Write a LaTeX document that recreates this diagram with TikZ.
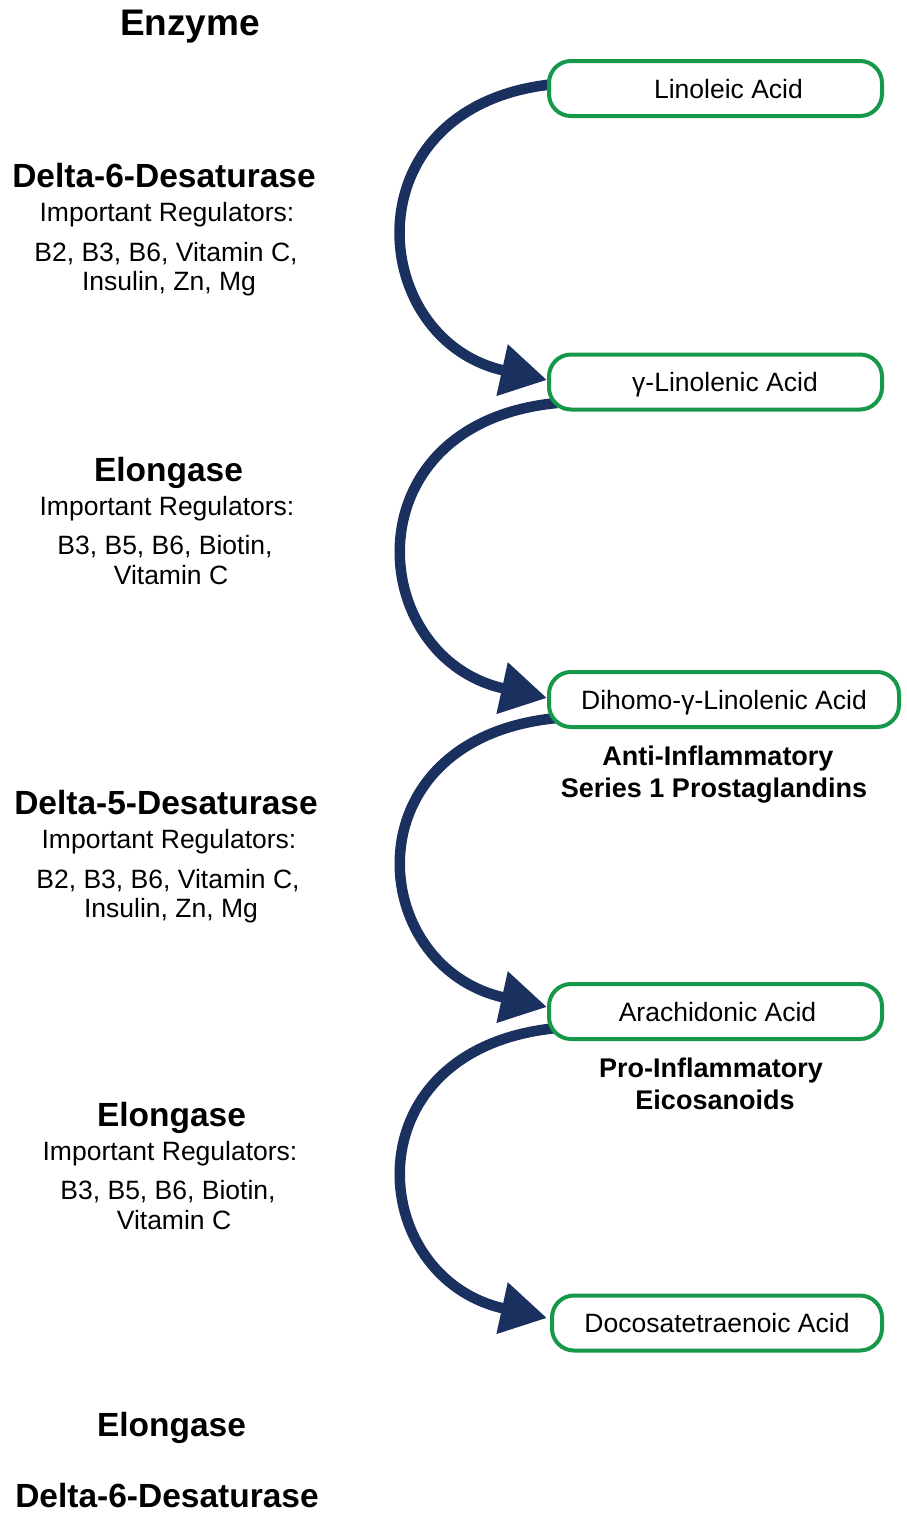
\documentclass[tikz,border=0pt]{standalone}
\usepackage{fontspec}
\setmainfont{Liberation Sans}
\usetikzlibrary{arrows.meta,backgrounds}
\definecolor{accgreen}{RGB}{22,152,74}
\definecolor{navyflow}{RGB}{26,48,94}
\tikzset{
  reg/.style={font=\fontsize{26.5}{30}\selectfont, text height=19pt, text depth=0pt, inner sep=0pt},
  head/.style={font=\bfseries\fontsize{33.5}{38}\selectfont, text height=24pt, text depth=0pt, inner sep=0pt},
  note/.style={font=\bfseries\fontsize{27}{31}\selectfont, text height=19.5pt, text depth=0pt, inner sep=0pt},
  acid/.style={draw=accgreen, line width=4pt, fill=white, rounded corners=22pt, minimum height=55pt,
    font=\fontsize{26.5}{30}\selectfont, text height=19pt, text depth=0pt, inner sep=0pt},
  flow/.style={draw=navyflow, line width=10.5pt, -{Triangle[length=46pt,width=50pt]}}
}
\begin{document}
\begin{tikzpicture}[x=1pt,y=1pt]
\useasboundingbox (0,0) rectangle (906,-1513);
% boxes
\node[acid, minimum width=333pt] (b1) at (715.5,-88.5) {\hspace*{26pt}Linoleic Acid};
\node[acid, minimum width=333pt] (b2) at (715.5,-382) {\hspace*{19pt}γ-Linolenic Acid};
\node[acid, minimum width=350pt] (b3) at (724,-699.5) {Dihomo-γ-Linolenic Acid};
\node[acid, minimum width=333pt] (b4) at (715.5,-1011.5) {\hspace*{4pt}Arachidonic Acid};
\node[acid, minimum width=330pt] (b5) at (717,-1323) {Docosatetraenoic Acid};
% arrows behind boxes
\begin{pgfonlayer}{background}
\draw[flow] ([xshift=8pt,yshift=4.5pt]b1.west) .. controls +(-207,-20) and +(-182,40) .. ([yshift=2pt]b2.west);
\draw[flow] ([xshift=10pt,yshift=-21pt]b2.west) .. controls +(-209,-20) and +(-182,40) .. ([yshift=1.5pt]b3.west);
\draw[flow] ([xshift=10pt,yshift=-18.5pt]b3.west) .. controls +(-209,-20) and +(-182,40) .. ([yshift=4.5pt]b4.west);
\draw[flow] ([xshift=10pt,yshift=-16.5pt]b4.west) .. controls +(-209,-20) and +(-182,40) .. ([xshift=-3pt,yshift=5pt]b5.west);
\end{pgfonlayer}
% left column
\node[head, font=\bfseries\fontsize{37}{41}\selectfont, text height=26pt] (enz) at (190,-22) {Enzyme};
\node[head] (d6) at (164,-175) {Delta-6-Desaturase};
\node[reg] (r1) at (167,-212) {Important Regulators:};
\node[reg] (r1a) at (166,-252) {B2, B3, B6, Vitamin C,};
\node[reg] (r1b) at (169,-281) {Insulin, Zn, Mg};
\node[head] (el1) at (168.5,-469) {Elongase};
\node[reg] (r2) at (167,-506) {Important Regulators:};
\node[reg] (r2a) at (165,-545) {B3, B5, B6, Biotin,};
\node[reg] (r2b) at (171,-575) {Vitamin C};
\node[head] (d5) at (166,-802) {Delta-5-Desaturase};
\node[reg] (r3) at (169,-839) {Important Regulators:};
\node[reg] (r3a) at (168,-879) {B2, B3, B6, Vitamin C,};
\node[reg] (r3b) at (171,-908) {Insulin, Zn, Mg};
\node[head] (el2) at (171.5,-1114) {Elongase};
\node[reg] (r4) at (170,-1151) {Important Regulators:};
\node[reg] (r4a) at (168,-1190) {B3, B5, B6, Biotin,};
\node[reg] (r4b) at (174,-1220) {Vitamin C};
\node[head] (el3) at (171.5,-1424) {Elongase};
\node[head] (d6b) at (167,-1495) {Delta-6-Desaturase};
% right notes
\node[note] (n1) at (718,-756) {Anti-Inflammatory};
\node[note] (n2) at (714,-788) {Series 1 Prostaglandins};
\node[note] (n3) at (711,-1068) {Pro-Inflammatory};
\node[note] (n4) at (715,-1100) {Eicosanoids};
\end{tikzpicture}
\end{document}
